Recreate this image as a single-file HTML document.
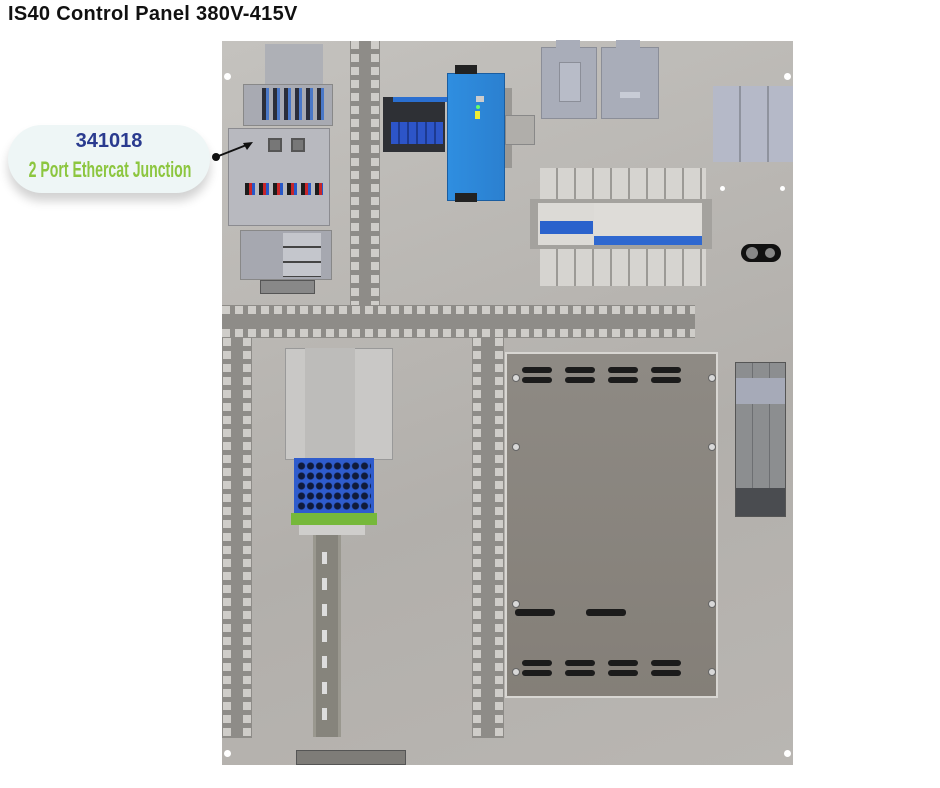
<!DOCTYPE html>
<html><head><meta charset="utf-8"><style>
*{margin:0;padding:0;box-sizing:border-box}
body{width:940px;height:788px;background:#fff;position:relative;overflow:hidden;font-family:"Liberation Sans",sans-serif}
.a{position:absolute}
.vd{position:absolute;background:#8e8c88}
.vd:before,.vd:after{content:"";position:absolute;top:0;bottom:0;width:8px;background:repeating-linear-gradient(to bottom,#cfcdc9 0 8px,#8e8c88 8px 13px)}
.vd:before{left:1px}.vd:after{right:1px}
.hd{position:absolute;background:#8e8c88}
.hd:before,.hd:after{content:"";position:absolute;left:0;right:0;height:8px;background:repeating-linear-gradient(to right,#cfcdc9 0 8px,#8e8c88 8px 13px)}
.hd:before{top:1px}.hd:after{bottom:1px}
.slot{position:absolute;height:6px;width:30px;background:#1b1b1b;border-radius:3px}
.hole{position:absolute;width:7px;height:7px;border-radius:50%;background:#fff}
.scr{position:absolute;width:8px;height:8px;border-radius:50%;background:#d8d8d8;border:1px solid #666}
</style></head><body>
<div class="a" style="left:8px;top:3px;font-size:20px;font-weight:bold;color:#111;letter-spacing:.3px">IS40 Control Panel 380V-415V</div>

<!-- panel -->
<div class="a" style="left:222px;top:41px;width:571px;height:724px;background:linear-gradient(160deg,#c4c2be,#b2afab 60%,#b9b6b2)"></div>
<div class="hole" style="left:224px;top:73px"></div>
<div class="hole" style="left:784px;top:73px"></div>
<div class="hole" style="left:224px;top:750px"></div>
<div class="hole" style="left:784px;top:750px"></div>
<div class="hole" style="left:720px;top:186px;width:5px;height:5px"></div>
<div class="hole" style="left:780px;top:186px;width:5px;height:5px"></div>

<!-- ducts -->
<div class="vd" style="left:350px;top:41px;width:30px;height:266px"></div>
<div class="hd" style="left:222px;top:305px;width:473px;height:33px"></div>
<div class="vd" style="left:222px;top:338px;width:30px;height:400px"></div>
<div class="vd" style="left:472px;top:338px;width:32px;height:400px"></div>

<!-- top left modules -->
<div class="a" style="left:265px;top:44px;width:58px;height:40px;background:#aeb0b6"></div>
<div class="a" style="left:243px;top:84px;width:90px;height:42px;background:#a8aab2;border:1px solid #888"></div>
<div class="a" style="left:262px;top:88px;width:66px;height:32px;background:repeating-linear-gradient(to right,#2b2e3a 0 4px,#4a78c8 4px 7px,#a8aab2 7px 11px)"></div>
<div class="a" style="left:228px;top:128px;width:102px;height:98px;background:#b8b9bf;border:1px solid #8b8b90"></div>
<div class="a" style="left:268px;top:138px;width:14px;height:14px;background:#777;border:2px solid #555"></div>
<div class="a" style="left:291px;top:138px;width:14px;height:14px;background:#777;border:2px solid #555"></div>
<div class="a" style="left:245px;top:183px;width:78px;height:12px;background:repeating-linear-gradient(to right,#1c1c1c 0 4px,#c8262a 4px 7px,#2858c8 7px 10px,#b8b9bf 10px 14px)"></div>
<div class="a" style="left:240px;top:230px;width:92px;height:50px;background:#a6a8b0;border:1px solid #888"></div>
<div class="a" style="left:283px;top:233px;width:38px;height:44px;background:repeating-linear-gradient(to bottom,#c4c6cc 0 13px,#444 13px 15px)"></div>
<div class="a" style="left:260px;top:280px;width:55px;height:14px;background:#888;border:1px solid #555"></div>

<!-- callout -->
<div class="a" style="left:8px;top:125px;width:202px;height:68px;border-radius:34px;background:#eef6f6;box-shadow:0 8px 10px rgba(0,0,0,.18)"></div>
<div class="a" style="left:8px;top:130px;width:202px;text-align:center;font-size:20px;font-weight:bold;color:#2a3b8f">341018</div>
<div class="a" style="left:-30px;top:157px;width:280px;text-align:center;font-size:22px;color:#8cc63f;transform:scaleX(.64);transform-origin:center;font-weight:bold;white-space:nowrap">2 Port Ethercat Junction</div>
<svg class="a" style="left:205px;top:135px" width="55" height="30"><circle cx="11" cy="22" r="4" fill="#111"/><line x1="11" y1="22" x2="44" y2="9" stroke="#111" stroke-width="2"/><polygon points="48,7 38,8 42,15" fill="#111"/></svg>

<!-- relays + PSU -->
<div class="a" style="left:383px;top:97px;width:62px;height:55px;background:#2e3035"></div>
<div class="a" style="left:393px;top:97px;width:55px;height:5px;background:#2a6fd0"></div>
<div class="a" style="left:391px;top:122px;width:52px;height:22px;background:repeating-linear-gradient(to right,#2d55c8 0 7px,#1d3a90 7px 9px)"></div>
<div class="a" style="left:500px;top:88px;width:12px;height:80px;background:#9a9894"></div>
<div class="a" style="left:505px;top:115px;width:30px;height:30px;background:#b0aeaa;border:1px solid #888"></div>
<div class="a" style="left:447px;top:73px;width:58px;height:128px;background:linear-gradient(90deg,#2f8ee0,#2b80d0);border:1px solid #1a5da0"></div>
<div class="a" style="left:455px;top:65px;width:22px;height:9px;background:#222"></div>
<div class="a" style="left:455px;top:193px;width:22px;height:9px;background:#222"></div>
<div class="a" style="left:476px;top:96px;width:8px;height:6px;background:#ccc"></div>
<div class="a" style="left:476px;top:105px;width:4px;height:4px;border-radius:50%;background:#6f6"></div>
<div class="a" style="left:475px;top:111px;width:5px;height:8px;background:#ee3"></div>

<!-- contactors -->
<div class="a" style="left:541px;top:47px;width:56px;height:72px;background:#a9adb9;border:1px solid #8b8e98"></div>
<div class="a" style="left:556px;top:40px;width:24px;height:10px;background:#a9adb9"></div>
<div class="a" style="left:559px;top:62px;width:22px;height:40px;background:#b8bcc8;border:1px solid #8b8e98"></div>
<div class="a" style="left:601px;top:47px;width:58px;height:72px;background:#a9adb9;border:1px solid #8b8e98"></div>
<div class="a" style="left:616px;top:40px;width:24px;height:10px;background:#a9adb9"></div>
<div class="a" style="left:620px;top:92px;width:20px;height:6px;background:#c8ccd6"></div>

<!-- top right -->
<div class="a" style="left:713px;top:86px;width:80px;height:76px;background:repeating-linear-gradient(to right,#b5b9c8 0 26px,#8f939e 26px 28px)"></div>

<!-- breakers -->
<div class="a" style="left:540px;top:168px;width:166px;height:118px;background:repeating-linear-gradient(to right,#d6d4d0 0 16px,#9c9a96 16px 18px)"></div>
<div class="a" style="left:530px;top:199px;width:182px;height:50px;background:#a4a29e"></div>
<div class="a" style="left:538px;top:203px;width:56px;height:42px;background:#dcdad6"></div>
<div class="a" style="left:594px;top:203px;width:108px;height:42px;background:#dedcd8"></div>
<div class="a" style="left:540px;top:221px;width:53px;height:13px;background:#2a62cc"></div>
<div class="a" style="left:594px;top:236px;width:108px;height:9px;background:#2f68d0"></div>
<div class="a" style="left:741px;top:244px;width:40px;height:18px;border-radius:9px;background:#111"></div>
<div class="a" style="left:746px;top:247px;width:12px;height:12px;border-radius:50%;background:#888"></div>
<div class="a" style="left:765px;top:248px;width:10px;height:10px;border-radius:50%;background:#888"></div>

<!-- terminals bottom left -->
<div class="a" style="left:285px;top:348px;width:108px;height:112px;background:#c9c8c6;border:1px solid #999"></div>
<div class="a" style="left:305px;top:348px;width:50px;height:112px;background:#bdbcba"></div>
<div class="a" style="left:294px;top:458px;width:80px;height:55px;background:#2f5ccc"></div>
<div class="a" style="left:297px;top:461px;width:74px;height:50px;background:radial-gradient(circle,#101a3a 3px,transparent 4px) 0 0/9px 10px"></div>
<div class="a" style="left:291px;top:513px;width:86px;height:12px;background:#76b83a"></div>
<div class="a" style="left:299px;top:525px;width:66px;height:10px;background:#cfcecc"></div>
<div class="a" style="left:313px;top:535px;width:28px;height:202px;background:#86847c;border-left:3px solid #9a988f;border-right:3px solid #9a988f"></div>
<div class="a" style="left:322px;top:552px;width:5px;height:170px;background:repeating-linear-gradient(to bottom,#ddd 0 12px,transparent 12px 26px)"></div>
<div class="a" style="left:296px;top:750px;width:110px;height:15px;background:#7e7c78;border:1px solid #555"></div>

<!-- cabinet -->
<div class="a" style="left:505px;top:352px;width:213px;height:346px;background:linear-gradient(#8e8a84,#847f78);border:2px solid #d8d6d2"></div>
<div class="slot" style="left:522px;top:367px"></div><div class="slot" style="left:565px;top:367px"></div><div class="slot" style="left:608px;top:367px"></div><div class="slot" style="left:651px;top:367px"></div>
<div class="slot" style="left:522px;top:377px"></div><div class="slot" style="left:565px;top:377px"></div><div class="slot" style="left:608px;top:377px"></div><div class="slot" style="left:651px;top:377px"></div>
<div class="slot" style="left:522px;top:660px"></div><div class="slot" style="left:565px;top:660px"></div><div class="slot" style="left:608px;top:660px"></div><div class="slot" style="left:651px;top:660px"></div>
<div class="slot" style="left:522px;top:670px"></div><div class="slot" style="left:565px;top:670px"></div><div class="slot" style="left:608px;top:670px"></div><div class="slot" style="left:651px;top:670px"></div>
<div class="slot" style="left:515px;top:609px;width:40px;height:7px"></div>
<div class="slot" style="left:586px;top:609px;width:40px;height:7px"></div>
<div class="scr" style="left:512px;top:374px"></div><div class="scr" style="left:708px;top:374px"></div>
<div class="scr" style="left:512px;top:443px"></div><div class="scr" style="left:708px;top:443px"></div>
<div class="scr" style="left:512px;top:600px"></div><div class="scr" style="left:708px;top:600px"></div>
<div class="scr" style="left:512px;top:668px"></div><div class="scr" style="left:708px;top:668px"></div>

<!-- right module -->
<div class="a" style="left:735px;top:362px;width:51px;height:155px;background:repeating-linear-gradient(to right,#8c8e90 0 16px,#6d6f72 16px 17px);border:1px solid #555"></div>
<div class="a" style="left:736px;top:378px;width:49px;height:26px;background:#a6aab8"></div>
<div class="a" style="left:736px;top:488px;width:49px;height:28px;background:#4a4c50"></div>
</body></html>
